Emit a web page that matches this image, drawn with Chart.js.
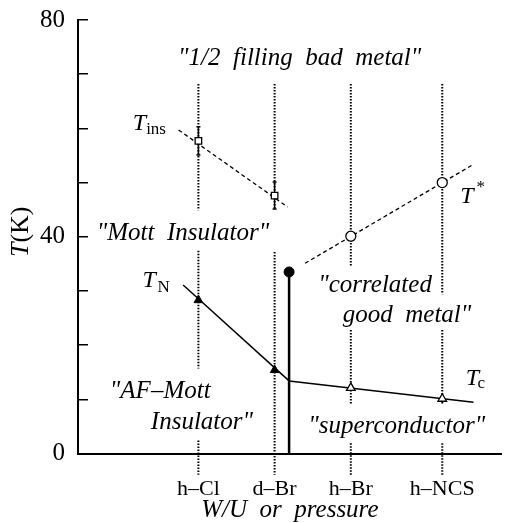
<!DOCTYPE html>
<html>
<head>
<meta charset="utf-8">
<script src="https://cdn.jsdelivr.net/npm/chart.js@4"></script>
<style>
  body { margin: 0; background: #fff; }
  canvas { display: block; }
</style>
</head>
<body>
<canvas id="chart" width="508" height="523"></canvas>
<script>
// compounds along the W/U axis and where they sit on it
const compounds = ['h\u2013Cl', 'd\u2013Br', 'h\u2013Br', 'h\u2013NCS'];
const compoundPos = [1, 2, 3, 4.2];

// T_ins, open squares with error bars (h-Cl, d-Br)
const tIns = [57.7, 47.6];
const tInsErr = [2.6, 2.5];
const tInsLineX = [0.74, 2.17];
const tInsLineT = [59.7, 45.5];

// T*, open circles (h-Br, h-NCS)
const tStar = [40.1, 50.0];
const tStarLineX = [2.40, 4.59];
const tStarLineT = [35.1, 53.2];

// T_N, filled triangles (h-Cl, d-Br)
const tN = [28.3, 15.4];
const tNLineX = [0.80, 2.19];
const tNLineT = [31.1, 13.4];

// Tc, open triangles (h-Br, h-NCS)
const tc = [12.1, 10.1];
const tcLineX = [2.19, 4.61];
const tcLineT = [13.4, 9.45];

// end point of the first order line
const endPointX = [2.19];
const endPointT = [33.5];

// dotted guides under each compound (broken where the text is)
const guideSegments = [
  [[68.2, 44.9], [37.4, 15.7], [2.4, -3.9]],
  [[68.2, 45.3], [37.2, -3.9]],
  [[68.2, 34.6], [22.8, 9.0], [1.9, -3.9]],
  [[68.2, 29.4], [22.8, 9.0], [1.9, -3.9]]
];
const arrowT = -3.3;

const yLabelled = [0, 40, 80];

const black = '#000';
const serif = "'Liberation Serif', 'Times New Roman', serif";

// text on the diagram: x in compound units, t in kelvin
const notes = [
  {x: 0.733, t: 71.7, parts: [['"1/2  filling  bad  metal"', 'italic 25px']]},
  {x: -0.334, t: 39.4, parts: [['"Mott  Insulator"', 'italic 25px']]},
  {x: -0.162, t: 10.3, parts: [['"AF\u2013Mott', 'italic 25px']]},
  {x: 0.376, t: 4.55, parts: [['Insulator"', 'italic 25px']]},
  {x: 2.572, t: 29.8, parts: [['"correlated', 'italic 25px']]},
  {x: 2.894, t: 24.3, parts: [['good  metal"', 'italic 25px']]},
  {x: 2.442, t: 3.75, parts: [['"superconductor"', 'italic 25px']]},
  {x: 0.139, t: 59.7, parts: [['T', 'italic 24px'], ['ins', '17px', 4, 0]]},
  {x: 0.268, t: 30.8, parts: [['T', 'italic 24px'], ['N', '17px', 5, 1.5]]},
  {x: 4.435, t: 46.2, parts: [['T', 'italic 24px'], ['*', '17px', -11, 3]]},
  {x: 4.508, t: 12.6, parts: [['T', 'italic 24px'], ['c', '17px', 3, -1.5]]}
];

function pts(xs, ys) {
  return xs.map((x, i) => ({x: x, y: ys[i]}));
}

var datasets = [];

// markers on top
datasets.push({data: pts(compoundPos.slice(0, 2), tIns), pointStyle: 'rect', pointRadius: 4.6,
  backgroundColor: '#fff', borderColor: black, borderWidth: 1.3, order: 0});
datasets.push({data: pts(compoundPos.slice(2), tStar), pointStyle: 'circle', pointRadius: 5,
  backgroundColor: '#fff', borderColor: black, borderWidth: 1.3, order: 0});
datasets.push({data: pts(compoundPos.slice(0, 2), tN), pointStyle: 'triangle', pointRadius: 5,
  backgroundColor: black, borderColor: black, borderWidth: 1, order: 0});
datasets.push({data: pts(compoundPos.slice(2), tc), pointStyle: 'triangle', pointRadius: 5,
  backgroundColor: '#fff', borderColor: black, borderWidth: 1.3, order: 0});
datasets.push({data: pts(endPointX, endPointT), pointStyle: 'circle', pointRadius: 5,
  backgroundColor: black, borderColor: black, borderWidth: 1, order: 0});

// error bars
var errData = [];
tIns.forEach((t, i) => {
  errData.push({x: compoundPos[i], y: t - tInsErr[i]}, {x: compoundPos[i], y: t + tInsErr[i]}, {x: compoundPos[i], y: null});
});
datasets.push({data: errData, showLine: true, borderColor: black, borderWidth: 1.5,
  pointStyle: 'line', pointRadius: 2, pointBorderWidth: 1.5, spanGaps: false, order: 1});

// phase lines
datasets.push({data: pts(tInsLineX, tInsLineT), showLine: true, borderColor: black, borderWidth: 1.3,
  borderDash: [4, 3], pointRadius: 0, order: 2});
datasets.push({data: pts(tStarLineX, tStarLineT), showLine: true, borderColor: black, borderWidth: 1.3,
  borderDash: [4, 3], pointRadius: 0, order: 2});
datasets.push({data: pts(tNLineX, tNLineT), showLine: true, borderColor: black, borderWidth: 1.5,
  pointRadius: 0, order: 2});
datasets.push({data: pts(tcLineX, tcLineT), showLine: true, borderColor: black, borderWidth: 1.5,
  pointRadius: 0, order: 2});
datasets.push({data: [{x: endPointX[0], y: endPointT[0]}, {x: endPointX[0], y: 0}], showLine: true,
  borderColor: black, borderWidth: 2.5, pointRadius: 0, order: 2});

// dotted guides with arrows below the axis
compoundPos.forEach((x, i) => {
  var d = [];
  guideSegments[i].forEach(seg => {
    d.push({x: x, y: seg[0]}, {x: x, y: seg[1]}, {x: x, y: null});
  });
  datasets.push({data: d, showLine: true, borderColor: black, borderWidth: 2, borderDash: [1.5, 1.5],
    pointRadius: 0, spanGaps: false, clip: false, order: 3});
});
datasets.push({data: compoundPos.map(x => ({x: x, y: arrowT})), pointStyle: 'triangle', rotation: 180,
  pointRadius: 3.5, backgroundColor: black, borderColor: black, borderWidth: 1, clip: false, order: 3});

const textPlugin = {
  id: 'phaseText',
  afterDatasetsDraw(chart) {
    const ctx = chart.ctx, xs = chart.scales.x, ys = chart.scales.y;
    ctx.save();
    ctx.fillStyle = black;
    ctx.textBaseline = 'alphabetic';
    ctx.textAlign = 'left';
    notes.forEach(n => {
      var px = xs.getPixelForValue(n.x);
      var py = ys.getPixelForValue(n.t);
      n.parts.forEach(p => {
        ctx.font = p[1] + ' ' + serif;
        px += (p[3] || 0);
        ctx.fillText(p[0], px, py + (p[2] || 0));
        px += ctx.measureText(p[0]).width;
      });
    });

    // y axis title T(K), T in italic
    ctx.translate(21, (ys.top + ys.bottom) / 2 - 5);
    ctx.rotate(-Math.PI / 2);
    ctx.textBaseline = 'middle';
    ctx.font = 'italic 26px ' + serif;
    var w1 = ctx.measureText('T').width;
    ctx.font = '26px ' + serif;
    var w2 = ctx.measureText('(K)').width;
    var sx = -(w1 + w2) / 2;
    ctx.font = 'italic 26px ' + serif;
    ctx.fillText('T', sx, 0);
    ctx.font = '26px ' + serif;
    ctx.fillText('(K)', sx + w1, 0);
    ctx.restore();
  }
};

new Chart(document.getElementById('chart'), {
  type: 'scatter',
  data: {datasets: datasets},
  options: {
    responsive: false,
    devicePixelRatio: 1,
    animation: false,
    layout: {padding: {top: 20, right: 0, left: 0, bottom: 0}},
    plugins: {legend: {display: false}, tooltip: {enabled: false}},
    scales: {
      x: {
        type: 'linear',
        min: -0.58,
        max: 4.98,
        afterBuildTicks: (s) => { s.ticks = compoundPos.map(v => ({value: v})); },
        afterFit: (s) => { s.height = 69.5; },
        grid: {display: false, drawTicks: false},
        border: {display: true, color: black, width: 2},
        ticks: {
          callback: (v, i) => compounds[i],
          color: black,
          padding: 23,
          maxRotation: 0,
          autoSkip: false,
          font: {family: serif, size: 22}
        },
        title: {
          display: true,
          text: 'W/U  or  pressure',
          color: black,
          padding: {top: 0, bottom: 0},
          font: {family: serif, size: 25, style: 'italic', lineHeight: 1}
        }
      },
      y: {
        min: 0,
        max: 80,
        afterFit: (s) => { s.width = 78; s.paddingTop = 0; s.paddingBottom = 0; },
        grid: {display: true, drawOnChartArea: false, drawTicks: true, tickLength: -10,
          color: black, lineWidth: 1.5},
        border: {display: true, color: black, width: 2},
        ticks: {
          stepSize: 10,
          autoSkip: false,
          padding: 23,
          color: black,
          font: {family: serif, size: 25},
          callback: (v) => yLabelled.includes(v) ? String(v) : ''
        }
      }
    }
  },
  plugins: [textPlugin]
});
</script>
</body>
</html>
